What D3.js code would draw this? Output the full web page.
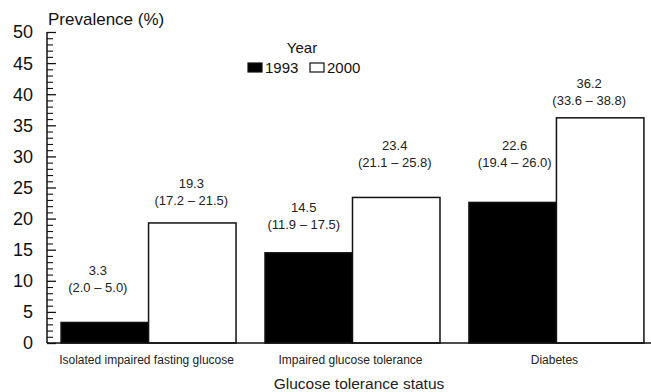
<!DOCTYPE html>
<html>
<head>
<meta charset="utf-8">
<script src="https://cdn.jsdelivr.net/npm/d3@7"></script>
<style>
  html, body { margin: 0; padding: 0; background: #fff; }
  svg { display: block; font-family: "Liberation Sans", Arial, sans-serif; }
</style>
</head>
<body>
<svg id="chart" width="651" height="392"></svg>
<script>
// ---- data ----
const categories = ["Isolated impaired fasting glucose", "Impaired glucose tolerance", "Diabetes"];
const years = ["1993", "2000"];
const values1993 = [3.3, 14.5, 22.6];
const values2000 = [19.3, 23.4, 36.2];
const ci1993 = ["(2.0 \u2013 5.0)", "(11.9 \u2013 17.5)", "(19.4 \u2013 26.0)"];
const ci2000 = ["(17.2 \u2013 21.5)", "(21.1 \u2013 25.8)", "(33.6 \u2013 38.8)"];
const yTicks = [0, 5, 10, 15, 20, 25, 30, 35, 40, 45, 50];
// label anchor heights (in % units) as placed in the original figure
const labelAt1993 = [8.9, 19.0, 29.0];
const labelAt2000 = [22.9, 29.0, 39.0];

// ---- layout ----
const labelDx1993 = [-7, -5, 2];
const labelDx2000 = [-1, -1.5, -11];
const svg = d3.select("#chart");
const axisX = 47, y0 = 343, yTop = 32;

const y = d3.scaleLinear().domain([0, 50]).range([y0, yTop]);
const x = d3.scaleBand().domain(categories).range([47, 658])
  .paddingInner(0.142).paddingOuter(0.069);
const xs = d3.scaleBand().domain(years).range([0, x.bandwidth()]);

const rows = categories.map((c, i) => ({
  cat: c,
  bars: [
    { year: "1993", v: values1993[i], ci: ci1993[i], at: labelAt1993[i], dx: labelDx1993[i] },
    { year: "2000", v: values2000[i], ci: ci2000[i], at: labelAt2000[i], dx: labelDx2000[i] }
  ]
}));

// bars
const g = svg.append("g");
const grp = g.selectAll("g.grp").data(rows).enter().append("g")
  .attr("transform", d => `translate(${x(d.cat)},0)`);
grp.selectAll("rect").data(d => d.bars).enter().append("rect")
  .attr("x", d => xs(d.year))
  .attr("y", d => y(d.v))
  .attr("width", xs.bandwidth())
  .attr("height", d => y(0) - y(d.v))
  .attr("fill", d => d.year === "1993" ? "#000" : "#fff")
  .attr("stroke", "#111")
  .attr("stroke-width", 1.5);

// value labels
const lab = grp.selectAll("g.lab").data(d => d.bars).enter().append("g")
  .attr("transform", d => `translate(${xs(d.year) + xs.bandwidth() / 2 + d.dx},${y(d.at)})`);
lab.append("text").attr("text-anchor", "middle").attr("y", -17).attr("dy", "0.35em")
  .attr("font-size", 13).attr("fill", "#222").text(d => d.v.toFixed(1));
lab.append("text").attr("text-anchor", "middle").attr("y", 0).attr("dy", "0.35em")
  .attr("font-size", 13).attr("fill", "#222").text(d => d.ci);

// y axis
const yAxis = d3.axisRight(y).tickValues(yTicks).tickSize(9).tickFormat("");
const ya = svg.append("g").attr("transform", `translate(${axisX},0)`).call(yAxis);
ya.select(".domain").remove();
ya.selectAll(".tick line").attr("stroke", "#111").attr("stroke-width", 1.3);
const minor = d3.range(0, 51).filter(v => v % 5 !== 0);
const ym = svg.append("g").attr("transform", `translate(${axisX},0)`)
  .call(d3.axisRight(y).tickValues(minor).tickSize(6).tickFormat(""));
ym.select(".domain").remove();
ym.selectAll(".tick line").attr("stroke", "#111").attr("stroke-width", 1.1);
svg.append("line").attr("x1", axisX).attr("x2", axisX).attr("y1", y(50)).attr("y2", y(0))
  .attr("stroke", "#111").attr("stroke-width", 1.5);
svg.append("g").selectAll("text").data(yTicks).enter().append("text")
  .attr("x", 33).attr("y", d => y(d)).attr("dy", "0.36em")
  .attr("text-anchor", "end").attr("font-size", 18).attr("fill", "#111")
  .text(d => d);

// x axis
svg.append("line").attr("x1", axisX).attr("x2", 651).attr("y1", y(0)).attr("y2", y(0))
  .attr("stroke", "#111").attr("stroke-width", 1.5);
svg.append("g").selectAll("text").data(categories).enter().append("text")
  .attr("x", d => x(d) + x.bandwidth() / 2 - 2).attr("y", 364)
  .attr("text-anchor", "middle").attr("font-size", 12).attr("fill", "#222")
  .text(d => d);

// titles
svg.append("text").attr("x", 48).attr("y", 25).attr("font-size", 17).attr("fill", "#111")
  .text("Prevalence (%)");
svg.append("text").attr("x", 359).attr("y", 389).attr("text-anchor", "middle")
  .attr("font-size", 15.5).attr("fill", "#222").text("Glucose tolerance status");

// legend
const leg = svg.append("g");
leg.append("text").attr("x", 302).attr("y", 53).attr("text-anchor", "middle")
  .attr("font-size", 15).attr("fill", "#111").text("Year");
const legItems = [{ year: years[0], x: 248 }, { year: years[1], x: 310 }];
const li = leg.selectAll("g.li").data(legItems).enter().append("g")
  .attr("transform", d => `translate(${d.x},63)`);
li.append("rect").attr("width", 14).attr("height", 9)
  .attr("fill", d => d.year === "1993" ? "#000" : "#fff")
  .attr("stroke", "#111").attr("stroke-width", 1.2);
li.append("text").attr("x", 17).attr("y", 9.5).attr("font-size", 15).attr("fill", "#111")
  .text(d => d.year);
</script>
</body>
</html>
